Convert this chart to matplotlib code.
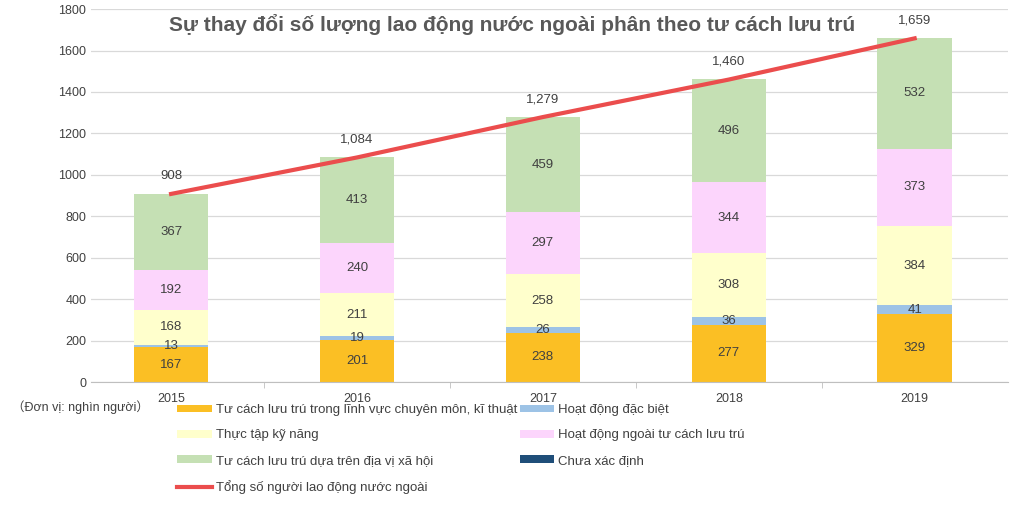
import matplotlib
matplotlib.use("Agg")
import matplotlib.pyplot as plt
from matplotlib.patches import Patch
from matplotlib.lines import Line2D
from matplotlib import font_manager
import numpy as np

names = {f.name for f in font_manager.fontManager.ttflist}
FONT = 'Liberation Sans Narrow' if 'Liberation Sans Narrow' in names else 'Liberation Sans'
plt.rcParams['font.family'] = [FONT, 'DejaVu Sans']

years = ['2015', '2016', '2017', '2018', '2019']
chuyen_mon = [167, 201, 238, 277, 329]
dac_biet = [13, 19, 26, 36, 41]
thuc_tap = [168, 211, 258, 308, 384]
ngoai_tu_cach = [192, 240, 297, 344, 373]
dia_vi = [367, 413, 459, 496, 532]
chua_xac_dinh = [1, 1, 1, 1, 1]
tong_so = [908, 1084, 1279, 1460, 1659]

series = [
    ('Tư cách lưu trú trong lĩnh vực chuyên môn, kĩ thuật', chuyen_mon, '#FBBF24', True),
    ('Hoạt động đặc biệt', dac_biet, '#9DC3E6', True),
    ('Thực tập kỹ năng', thuc_tap, '#FFFFCC', True),
    ('Hoạt động ngoài tư cách lưu trú', ngoai_tu_cach, '#FCD5FC', True),
    ('Tư cách lưu trú dựa trên địa vị xã hội', dia_vi, '#C5E0B4', True),
    ('Chưa xác định', chua_xac_dinh, '#1F4E79', False),
]

fig = plt.figure(figsize=(10.24, 5.07), dpi=100)
ax = fig.add_axes([0.089, 0.2465, 0.895, 0.7355])
x = np.arange(len(years))
bottom = np.zeros(len(years))
handles = {}
for name, vals, color, lab in series:
    vals = np.array(vals, dtype=float)
    bars = ax.bar(x, vals, 0.4, bottom=bottom, color=color, zorder=2)
    if lab:
        for xi, b, v in zip(x, bottom, vals):
            ax.text(xi, b + v / 2, f'{int(v)}', ha='center', va='center',
                    fontsize=9.5, color='#404040', zorder=4)
    handles[name] = Patch(facecolor=color)
    bottom += vals

line, = ax.plot(x, tong_so, color='#EB4D4D', lw=3, zorder=3)
for xi, v in zip(x, tong_so):
    ax.annotate(f'{v:,}', (xi, v), xytext=(0, 13), textcoords='offset points',
                ha='center', va='center', fontsize=9.5, color='#404040', zorder=4)

ax.set_ylim(0, 1800)
ax.set_xlim(-0.43, 4.5)
ax.set_yticks(range(0, 1801, 200))
ax.set_xticks(x)
ax.set_xticklabels(years)
ax.tick_params(axis='both', length=0, labelsize=9, colors='#404040')
ax.tick_params(axis='x', pad=8)
ax.set_xticks(np.arange(0.5, 4.5, 1), minor=True)
ax.tick_params(axis='x', which='minor', length=4, color='#BFBFBF')
ax.grid(axis='y', color='#D9D9D9', lw=0.9, zorder=0)
for s in ['top', 'right', 'left']:
    ax.spines[s].set_visible(False)
ax.spines['bottom'].set_color('#BFBFBF')

fig.text(0.5, 0.952, 'Sự thay đổi số lượng lao động nước ngoài phân theo tư cách lưu trú',
         ha='center', va='center', fontsize=15, fontweight='bold', color='#595959')
fig.text(0.012, 0.197, '（Đơn vị: nghìn người）', ha='left', va='center', fontsize=9,
         color='#404040', family=[FONT, 'Noto Sans CJK JP', 'DejaVu Sans'])

order_h = [handles[series[0][0]], handles[series[2][0]], handles[series[4][0]],
           Line2D([], [], color='#EB4D4D', lw=3),
           handles[series[1][0]], handles[series[3][0]], handles[series[5][0]]]
order_l = [series[0][0], series[2][0], series[4][0], 'Tổng số người lao động nước ngoài',
           series[1][0], series[3][0], series[5][0]]
fig.legend(order_h, order_l, ncol=2, loc='upper left', bbox_to_anchor=(0.168, 0.213),
           frameon=False, fontsize=9.5, handlelength=2.6, handleheight=0.5,
           handletextpad=0.3, columnspacing=0.2, labelspacing=1.0,
           labelcolor='#404040', borderaxespad=0)

fig.savefig('out.png', dpi=100, facecolor='white')
